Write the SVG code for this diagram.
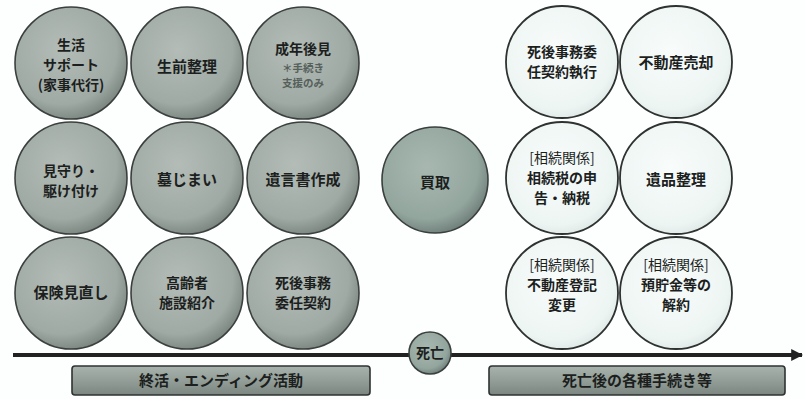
<svg xmlns="http://www.w3.org/2000/svg" width="805" height="399" viewBox="0 0 805 399">
<defs>
<radialGradient id="gDark" cx="0.42" cy="0.38" r="0.65">
<stop offset="0" stop-color="#b3bcb6"/>
<stop offset="0.75" stop-color="#a0aaa4"/>
<stop offset="1" stop-color="#7a847f"/>
</radialGradient>
<radialGradient id="gMid" cx="0.42" cy="0.38" r="0.65">
<stop offset="0" stop-color="#a8b8b1"/>
<stop offset="0.75" stop-color="#93a69e"/>
<stop offset="1" stop-color="#6d7e78"/>
</radialGradient>
<radialGradient id="gLight" cx="0.45" cy="0.4" r="0.65">
<stop offset="0" stop-color="#f8fcfb"/>
<stop offset="0.8" stop-color="#edf5f3"/>
<stop offset="1" stop-color="#d9e4e1"/>
</radialGradient>
<linearGradient id="gBar" x1="0" y1="0" x2="0" y2="1">
<stop offset="0" stop-color="#a9b3ad"/>
<stop offset="0.5" stop-color="#929e97"/>
<stop offset="1" stop-color="#7a867f"/>
</linearGradient>
<marker id="arrow" viewBox="0 0 10 10" refX="9" refY="5" markerWidth="3" markerHeight="3.2" orient="auto" markerUnits="strokeWidth">
<path d="M0,0 L10,5 L0,10 z" fill="#222"/>
</marker>
</defs>
<style>
.dark{fill:url(#gDark);stroke:#3a403d;stroke-width:1.6}
.mid{fill:url(#gMid);stroke:#3a403d;stroke-width:1.6}
.light{fill:url(#gLight);stroke:#2e3331;stroke-width:1.8}
.bar{fill:url(#gBar);stroke:#2e3331;stroke-width:1.6}
text{font-family:"Noto Sans CJK JP","Noto Sans",sans-serif;font-size:14px;font-weight:bold;fill:#1c1f1e;text-anchor:middle}
.sm{font-size:10.5px;fill:#55605b}
.nb{font-weight:normal}
.big{font-size:15px}
</style>
<rect width="805" height="399" fill="#fdfefe"/>
<g id="connectors">
<line x1="13" y1="355" x2="802" y2="355" stroke="#222" stroke-width="4" marker-end="url(#arrow)"/>
</g>
<g id="n1"><circle class="dark" cx="71" cy="63" r="56"/><text x="71" y="50">生活</text><text x="71" y="70">サポート</text><text x="71" y="90">(家事代行)</text></g>
<g id="n2"><circle class="dark" cx="187" cy="63" r="56"/><text class="big" x="187" y="72">生前整理</text></g>
<g id="n3"><circle class="dark" cx="303" cy="63" r="56"/><text x="303" y="54">成年後見</text><text class="sm" x="303" y="72">＊手続き</text><text class="sm" x="303" y="87">支援のみ</text></g>
<g id="n4"><circle class="dark" cx="71" cy="178" r="56"/><text x="71" y="176">見守り・</text><text x="71" y="196">駆け付け</text></g>
<g id="n5"><circle class="dark" cx="187" cy="178" r="56"/><text class="big" x="187" y="185">墓じまい</text></g>
<g id="n6"><circle class="dark" cx="303" cy="178" r="56"/><text class="big" x="303" y="185">遺言書作成</text></g>
<g id="n7"><circle class="dark" cx="71" cy="293" r="56"/><text class="big" x="71" y="298">保険見直し</text></g>
<g id="n8"><circle class="dark" cx="187" cy="293" r="56"/><text x="187" y="288">高齢者</text><text x="187" y="308">施設紹介</text></g>
<g id="n9"><circle class="dark" cx="303" cy="293" r="56"/><text x="303" y="288">死後事務</text><text x="303" y="308">委任契約</text></g>
<g id="n10"><circle class="mid" cx="435" cy="180" r="53"/><text class="big" x="435" y="188">買取</text></g>
<g id="n11"><circle class="light" cx="562" cy="62" r="56"/><text x="562" y="57">死後事務委</text><text x="562" y="77">任契約執行</text></g>
<g id="n12"><circle class="light" cx="676" cy="62" r="56"/><text class="big" x="676" y="68">不動産売却</text></g>
<g id="n13"><circle class="light" cx="562" cy="178" r="56"/><text class="nb" x="562" y="163">[相続関係]</text><text x="562" y="183">相続税の申</text><text x="562" y="203">告・納税</text></g>
<g id="n14"><circle class="light" cx="676" cy="178" r="56"/><text class="big" x="676" y="185">遺品整理</text></g>
<g id="n15"><circle class="light" cx="562" cy="293" r="56"/><text class="nb" x="562" y="270">[相続関係]</text><text x="562" y="290">不動産登記</text><text x="562" y="310">変更</text></g>
<g id="n16"><circle class="light" cx="676" cy="293" r="56"/><text class="nb" x="676" y="270">[相続関係]</text><text x="676" y="290">預貯金等の</text><text x="676" y="310">解約</text></g>
<g id="death"><circle class="mid" cx="430" cy="353" r="21"/><text x="430" y="358">死亡</text></g>
<g id="bar1"><rect class="bar" x="72" y="366" width="298" height="29" rx="3"/><text class="big" x="221" y="386">終活・エンディング活動</text></g>
<g id="bar2"><rect class="bar" x="489" y="366" width="296" height="29" rx="3"/><text class="big" x="637" y="386">死亡後の各種手続き等</text></g>
</svg>
